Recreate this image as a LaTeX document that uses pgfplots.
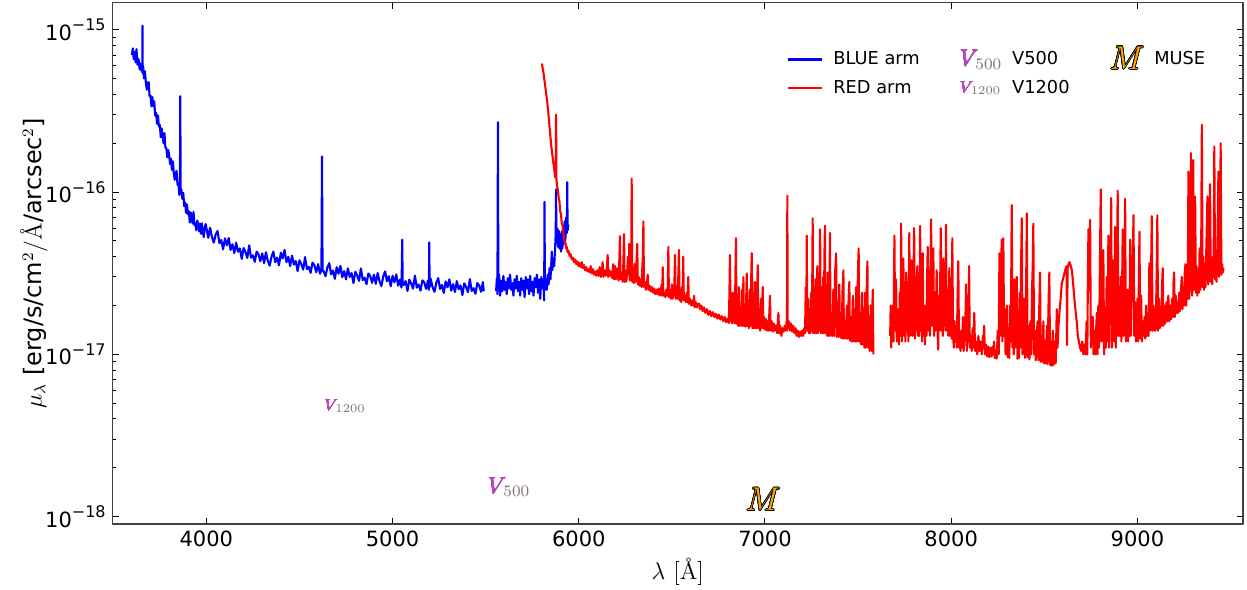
\documentclass[border=0pt]{standalone}
\usepackage{fix-cm}
\usepackage{pgfplots}
\pgfplotsset{compat=1.18}
\usepackage{pgfplotstable}
\usepackage{fontspec}
\usepackage{contour}
\newfontfamily\dv{DejaVu Sans}
\contourlength{0.35pt}
\definecolor{vmag}{RGB}{200,60,200}
\definecolor{vgray}{RGB}{128,112,128}
\definecolor{morange}{RGB}{255,165,0}
\colorlet{vedge}{vgray!50!vmag}
\newcommand{\ytl}[1]{{\dv\fontsize{10.5}{12}\selectfont 10\raisebox{0.45em}{\fontsize{8}{9}\selectfont −#1}}}
\newcommand{\Vfive}{{\fontsize{11.5}{12}\selectfont\contourlength{0.08pt}$\mbox{\color{vmag}\contour{vedge}{$V$}}_{\!\color{vgray}500}$}}
\newcommand{\Vtwelve}{{\fontsize{8}{9}\selectfont\contourlength{0.06pt}$\mbox{\color{vmag}\contour{vedge}{$V$}}_{\!\color{vgray}1200}$}}
\newcommand{\Muse}{{\fontsize{16.5}{17}\selectfont\color{morange}\contour{black}{$M$}}}

% fluxes in units of 1e-17 erg/s/cm2/A/arcsec2
\pgfplotstableread[row sep=\\]{
l f\\
3600 70\\ 3605 77\\ 3610 66\\ 3615 73\\ 3620 63\\ 3625 76\\ 3630 61\\ 3636 66\\ 3642 57\\ 3648 62\\
3654 55\\ 3656 56\\ 3657 106\\ 3658 54\\ 3660 60.4\\ 3665 50.2\\ 3670 55.6\\ 3675 47.5\\ 3680 42.8\\
3685 46.8\\ 3690 47.7\\ 3695 39.0\\ 3700 39.4\\ 3705 33.8\\ 3710 38.5\\ 3715 33.8\\ 3720 36.3\\
3725 29.6\\ 3730 30.9\\ 3735 26.4\\ 3740 29.7\\ 3745 25.4\\ 3750 26.0\\ 3755 21.8\\ 3760 24.7\\
3765 22.5\\ 3770 20.0\\ 3775 23.1\\ 3780 18.8\\ 3785 18.7\\ 3790 16.4\\ 3795 18.2\\ 3800 17.0\\
3805 14.9\\ 3810 16.1\\ 3815 13.7\\ 3820 15.5\\ 3825 13.2\\ 3830 11.9\\ 3835 13.1\\ 3840 13.5\\
3845 11.1\\ 3850 11.3\\ 3855 9.6\\ 3858 10.4\\ 3860 39\\ 3862 10.0\\ 3866 10.4\\ 3871 9.1\\ 3876 9.9\\
3881 8.2\\ 3886 8.65\\ 3891 7.45\\ 3896 8.4\\ 3901 7.3\\ 3906 7.6\\ 3911 6.5\\ 3916 7.5\\ 3921 7.0\\
3926 6.4\\ 3931 7.55\\ 3936 6.27\\ 3941 6.43\\ 3946 5.82\\ 3951 6.68\\ 3956 6.39\\ 3961 5.73\\
3966 6.39\\ 3971 5.53\\ 3976 6.43\\ 3981 5.67\\ 3986 5.28\\ 3991 5.98\\ 3996 6.35\\
4000 6.04\\ 4010 5.22\\ 4020 6.03\\ 4030 5.28\\ 4040 4.88\\ 4050 5.49\\ 4060 5.76\\ 4070 4.85\\
4080 5.07\\ 4090 4.44\\ 4100 5.19\\ 4110 4.70\\ 4120 5.21\\ 4130 4.40\\ 4140 4.77\\ 4150 4.21\\
4160 4.88\\ 4170 4.29\\ 4180 4.50\\ 4190 3.88\\ 4200 4.52\\ 4210 4.27\\ 4220 3.93\\ 4230 4.70\\
4240 3.95\\ 4250 4.08\\ 4260 3.72\\ 4270 4.30\\ 4280 4.14\\ 4290 3.75\\ 4300 4.19\\ 4310 3.65\\
4320 4.26\\ 4330 3.77\\ 4340 3.52\\ 4350 4.00\\ 4360 4.30\\ 4370 3.70\\ 4380 3.95\\ 4390 3.54\\
4400 4.23\\ 4410 3.90\\ 4420 4.40\\ 4430 3.70\\ 4440 3.99\\ 4450 3.50\\ 4460 4.06\\ 4470 3.58\\
4480 3.76\\ 4490 3.26\\ 4500 3.80\\ 4510 3.60\\ 4520 3.33\\ 4530 3.98\\ 4540 3.35\\ 4550 3.47\\
4560 3.18\\ 4570 3.68\\ 4580 3.54\\ 4590 3.21\\ 4600 3.60\\ 4610 3.14\\ 4618 3.3\\ 4621 16.6\\
4624 3.3\\ 4630 3.25\\ 4640 3.03\\ 4650 3.44\\ 4660 3.65\\ 4670 3.11\\ 4680 3.29\\ 4690 2.92\\
4700 3.45\\ 4710 3.14\\ 4720 3.51\\ 4730 2.99\\ 4740 3.26\\ 4750 2.90\\ 4760 3.39\\ 4770 3.00\\
4780 3.17\\ 4790 2.75\\ 4800 3.23\\ 4810 3.06\\ 4820 2.84\\ 4830 3.39\\ 4840 2.87\\ 4850 2.97\\
4860 2.71\\ 4870 3.15\\ 4880 3.04\\ 4890 2.76\\ 4900 3.10\\ 4910 2.72\\ 4920 3.17\\ 4930 2.82\\
4940 2.64\\ 4950 3.02\\ 4960 3.25\\ 4970 2.82\\ 4980 3.03\\ 4990 2.63\\ 5000 3.05\\ 5010 2.78\\
5020 3.11\\ 5030 2.65\\ 5040 2.89\\ 5048 2.58\\ 5052 5.1\\ 5054 2.8\\ 5060 2.67\\ 5070 2.83\\
5080 2.46\\ 5090 2.89\\ 5100 2.74\\ 5110 2.54\\ 5120 3.06\\ 5130 2.58\\ 5140 2.69\\ 5150 2.47\\
5160 2.86\\ 5170 2.78\\ 5180 2.53\\ 5190 2.85\\ 5195 2.5\\ 5197 4.9\\ 5199 2.6\\ 5205 2.92\\
5215 2.59\\ 5225 2.43\\ 5235 2.77\\ 5245 2.95\\ 5255 2.53\\ 5265 2.68\\ 5275 2.39\\ 5285 2.82\\
5295 2.59\\ 5305 2.90\\ 5315 2.47\\ 5325 2.71\\ 5335 2.42\\ 5345 2.83\\ 5355 2.52\\ 5365 2.66\\
5375 2.32\\ 5385 2.74\\ 5395 2.60\\ 5405 2.42\\ 5415 2.91\\ 5425 2.46\\ 5435 2.56\\ 5445 2.36\\
5455 2.75\\ 5465 2.66\\ 5475 2.43\\ 5485 2.79\\ 5490 2.45\\
}\blueA
\pgfplotstableread[row sep=\\]{
l f\\
5556 2.45\\ 5560 2.95\\ 5563 2.35\\ 5566 27\\ 5568 2.6\\ 5572 3.1\\ 5577 2.3\\ 5583 2.85\\ 5589 2.45\\
5595 3.05\\ 5601 2.5\\ 5607 2.8\\ 5613 2.35\\ 5619 2.95\\ 5625 2.55\\ 5631 3.1\\ 5637 2.5\\ 5643 2.75\\
5649 2.3\\ 5655 2.9\\ 5661 2.55\\ 5667 3.05\\ 5673 2.45\\ 5679 2.8\\ 5685 2.3\\ 5691 2.95\\ 5697 2.5\\
5703 2.85\\ 5709 2.25\\ 5715 3.0\\ 5721 2.55\\ 5727 2.9\\ 5733 2.35\\ 5739 3.05\\ 5745 2.45\\ 5751 2.8\\
5757 2.3\\ 5763 2.95\\ 5769 2.6\\ 5775 3.1\\ 5781 2.4\\ 5787 2.9\\ 5793 2.2\\ 5799 3.0\\ 5805 2.55\\
5810 2.9\\ 5814 2.15\\ 5816 8.7\\ 5818 2.5\\ 5823 2.9\\ 5828 2.5\\ 5833 3.1\\ 5838 2.7\\ 5843 3.4\\
5848 2.9\\ 5853 3.8\\ 5855 4.3\\ 5858 3.3\\ 5863 3.9\\ 5868 3.5\\ 5873 4.6\\ 5876 5.5\\ 5878 10.4\\
5880 5.0\\ 5884 6.0\\ 5888 4.6\\ 5892 5.8\\ 5896 4.5\\ 5900 5.5\\ 5904 4.3\\ 5908 5.7\\ 5912 4.5\\
5916 6.2\\ 5920 4.8\\ 5924 6.6\\ 5928 5.0\\ 5932 7.0\\ 5936 5.6\\ 5938 11.5\\ 5940 5.8\\ 5944 6.3\\
}\blueB
\pgfplotstableread[row sep=\\]{
l f\\
5802 62\\ 5806 58\\ 5810 55\\ 5814 50.5\\ 5818 46.5\\ 5822 43\\ 5826 39.5\\ 5830 36.5\\ 5834 33\\
5838 29.5\\ 5842 26\\ 5846 23\\ 5850 20.5\\ 5854 18.5\\ 5858 17\\ 5862 15.5\\ 5866 14.5\\ 5870 13.2\\
5874 12.3\\ 5876 13.5\\ 5878 30\\ 5880 12\\ 5884 10.8\\ 5888 10.2\\ 5892 9.2\\ 5896 8.8\\ 5900 7.6\\
5904 7.4\\ 5908 6.5\\ 5912 6.3\\ 5916 5.6\\ 5920 5.4\\ 5924 5.0\\ 5928 4.9\\ 5932 4.5\\ 5936 4.6\\
5940 4.25\\ 5945 4.35\\ 5950 4.05\\ 5956 4.15\\ 5962 3.85\\ 5968 3.95\\ 5974 3.7\\ 5980 3.85\\ 5986 3.6\\
5992 3.75\\ 5998 3.5\\ 6004 3.65\\ 6010 3.45\\ 6016 3.7\\ 6022 3.4\\ 6028 3.55\\ 6034 3.3\\ 6040 3.45\\
6046 3.25\\ 6052 3.35\\ 6058 3.2\\ 6064 3.5\\ 6070 3.15\\ 6076 3.35\\ 6082 3.1\\ 6088 3.25\\ 6094 3.05\\
6100 3.3\\ 6106 3.05\\ 6112 3.45\\ 6118 3.0\\ 6124 3.25\\ 6128 3.7\\ 6132 3.0\\ 6138 3.3\\ 6144 3.05\\
6150 3.35\\ 6155 4.1\\ 6158 3.0\\ 6164 3.3\\ 6170 3.05\\ 6176 3.25\\ 6180 2.95\\ 6185 3.6\\ 6190 2.9\\
6195 3.5\\ 6200 2.9\\ 6205 3.3\\ 6210 3.4\\ 6214 2.85\\ 6218 3.9\\ 6221 5.35\\ 6224 2.9\\ 6230 3.2\\
6236 2.8\\ 6240 3.9\\ 6243 5.5\\ 6246 2.8\\ 6250 3.3\\ 6255 2.8\\ 6260 3.2\\ 6264 4.0\\ 6268 3.1\\
6271 4.8\\ 6274 2.85\\ 6278 3.5\\ 6281 3.0\\ 6284 12.1\\ 6287 2.8\\ 6291 3.4\\ 6295 2.75\\ 6300 3.6\\
6304 2.8\\ 6308 3.3\\ 6311 4.0\\ 6314 4.8\\ 6317 2.7\\ 6322 3.0\\ 6326 2.65\\ 6332 2.9\\ 6337 2.6\\
6341 3.4\\ 6344 4.0\\ 6347 6.6\\ 6350 2.6\\ 6355 2.8\\ 6360 2.5\\ 6365 2.7\\ 6370 3.1\\ 6374 2.5\\
6380 2.65\\ 6386 2.45\\ 6392 2.6\\ 6398 2.4\\ 6404 2.55\\ 6410 2.35\\ 6416 2.5\\ 6422 2.35\\ 6428 2.55\\
6434 2.3\\ 6440 2.45\\ 6445 2.7\\ 6448 2.3\\ 6451 3.45\\ 6454 2.3\\ 6460 2.4\\ 6465 2.25\\ 6470 2.5\\
6474 2.3\\ 6478 2.6\\ 6481 4.6\\ 6484 2.25\\ 6490 2.5\\ 6495 2.2\\ 6500 2.7\\ 6504 2.2\\ 6508 2.6\\
6512 2.3\\ 6517 4.1\\ 6520 2.2\\ 6525 2.5\\ 6530 2.2\\ 6534 2.9\\ 6538 4.4\\ 6541 2.15\\ 6546 2.5\\
6550 2.1\\ 6554 2.6\\ 6557 2.2\\ 6561 4.0\\ 6564 2.15\\ 6570 2.3\\ 6575 2.1\\ 6580 2.4\\ 6584 2.1\\
6588 3.0\\ 6591 2.05\\ 6597 2.2\\ 6603 2.0\\ 6610 2.15\\ 6616 2.0\\ 6619 2.3\\ 6622 1.95\\ 6628 2.1\\
6634 1.95\\ 6640 2.05\\ 6647 2.05\\ 6650 1.9\\ 6658 2.0\\ 6665 1.85\\ 6672 1.95\\ 6680 1.8\\ 6688 1.9\\
6696 1.75\\ 6704 1.85\\ 6712 1.72\\ 6720 1.82\\ 6728 1.7\\ 6736 1.78\\ 6744 1.66\\ 6752 1.76\\ 6760 1.64\\
6768 1.72\\ 6776 1.6\\ 6784 1.7\\ 6792 1.58\\ 6800 1.66\\ 6806 1.56\\ 6809 2.4\\ 6812 4.1\\ 6815 1.6\\
6820 1.8\\ 6824 1.55\\ 6827 2.4\\ 6830 1.6\\ 6835 2.0\\ 6838 1.55\\ 6841 3.0\\ 6844 5.2\\ 6847 1.55\\
6852 2.2\\ 6856 1.5\\ 6860 2.6\\ 6863 1.5\\ 6868 1.9\\ 6872 1.5\\ 6877 2.5\\ 6880 1.5\\ 6884 3.0\\
6887 1.5\\ 6892 2.0\\ 6896 1.48\\ 6899 2.2\\ 6902 3.15\\ 6905 1.5\\ 6910 2.0\\ 6914 1.45\\ 6918 2.5\\
6922 1.5\\ 6926 3.0\\ 6929 4.2\\ 6932 1.45\\ 6936 2.1\\ 6940 1.45\\ 6945 2.8\\ 6948 1.45\\ 6952 2.2\\
6955 1.45\\ 6958 2.6\\ 6961 3.55\\ 6964 1.45\\ 6970 1.9\\ 6974 1.4\\ 6978 2.2\\ 6982 1.45\\ 6985 2.0\\
6988 2.6\\ 6991 1.45\\ 6996 1.7\\ 7000 1.42\\ 7006 1.65\\ 7010 1.4\\ 7016 1.6\\ 7020 1.4\\ 7024 1.9\\
7027 2.3\\ 7030 1.4\\ 7036 1.6\\ 7042 1.38\\ 7048 1.55\\ 7054 1.4\\ 7060 1.5\\ 7066 1.35\\ 7072 1.8\\
7076 1.35\\ 7082 1.5\\ 7088 1.3\\ 7094 1.45\\ 7100 1.38\\ 7106 1.5\\ 7112 1.4\\ 7116 1.6\\ 7118 1.4\\
7120 9.5\\ 7122 1.45\\ 7128 1.6\\ 7134 1.4\\ 7140 1.55\\ 7146 1.38\\ 7152 1.5\\ 7158 1.35\\ 7164 1.45\\
7170 1.3\\ 7176 1.4\\ 7182 1.28\\ 7188 1.38\\ 7194 1.3\\ 7200 1.4\\ 7205 1.3\\ 7210 1.45\\ 7215 1.35\\
7219 2.6\\ 7222 1.4\\ 7224 5.4\\ 7227 1.4\\ 7232 2.2\\ 7236 1.35\\ 7240 1.9\\ 7244 1.35\\ 7248 2.4\\
7252 1.4\\ 7256 6.9\\ 7259 1.35\\ 7264 2.2\\ 7268 1.35\\ 7272 2.9\\ 7276 1.35\\ 7281 3.5\\ 7284 1.35\\
7288 2.4\\ 7292 1.4\\ 7296 5.9\\ 7299 1.35\\ 7304 2.6\\ 7308 1.35\\ 7313 3.0\\ 7316 1.35\\ 7319 4.0\\
7322 6.2\\ 7325 1.35\\ 7330 2.0\\ 7334 1.3\\ 7338 3.2\\ 7342 1.3\\ 7346 2.6\\ 7349 5.6\\ 7352 1.3\\
7358 1.8\\ 7362 1.3\\ 7367 2.5\\ 7371 1.3\\ 7376 3.1\\ 7382 4.2\\ 7385 1.28\\ 7390 2.0\\ 7394 1.28\\
7399 2.7\\ 7403 1.28\\ 7408 1.8\\ 7412 1.25\\ 7416 2.4\\ 7421 3.3\\ 7424 1.25\\ 7430 1.6\\ 7434 1.25\\
7440 2.0\\ 7444 1.25\\ 7449 2.2\\ 7453 2.8\\ 7456 1.22\\ 7462 1.7\\ 7466 1.2\\ 7472 2.3\\ 7476 1.2\\
7481 1.9\\ 7485 1.2\\ 7490 2.6\\ 7494 1.2\\ 7499 3.2\\ 7503 4.5\\ 7506 1.2\\ 7512 1.8\\ 7516 1.15\\
7521 2.4\\ 7525 1.15\\ 7530 1.9\\ 7534 1.1\\ 7537 2.4\\ 7540 1.1\\ 7545 2.2\\ 7550 3.75\\ 7553 1.1\\
7558 1.7\\ 7562 1.05\\ 7568 2.0\\ 7572 1.05\\ 7576 1.9\\ 7579 2.5\\ 7582 1.0\\
}\redA
\pgfplotstableread[row sep=\\]{
l f\\
7672 1.3\\ 7675 2.0\\ 7678 1.1\\ 7682 1.8\\ 7686 2.0\\ 7690 1.2\\ 7695 5.4\\ 7699 1.4\\ 7704 2.9\\
7708 1.2\\ 7712 1.9\\ 7716 1.7\\ 7720 1.15\\ 7724 2.4\\ 7728 1.3\\ 7731 6.4\\ 7735 1.2\\ 7739 2.6\\
7743 3.9\\ 7747 1.3\\ 7751 2.2\\ 7754 1.2\\ 7758 3.2\\ 7762 1.4\\ 7766 2.8\\ 7770 1.2\\ 7775 5.6\\
7779 1.3\\ 7783 2.5\\ 7788 3.8\\ 7792 1.3\\ 7796 2.2\\ 7801 6.0\\ 7805 1.25\\ 7809 3.0\\ 7813 1.4\\
7818 3.5\\ 7822 1.3\\ 7826 2.6\\ 7829 1.3\\ 7833 6.2\\ 7837 1.4\\ 7841 2.4\\ 7844 1.2\\ 7847 4.2\\
7851 1.3\\ 7855 2.0\\ 7859 1.15\\ 7863 1.8\\ 7867 1.3\\ 7870 2.8\\ 7874 4.6\\ 7878 1.4\\ 7882 2.4\\
7886 1.3\\ 7889 3.5\\ 7892 6.8\\ 7896 1.5\\ 7900 2.8\\ 7904 4.5\\ 7908 1.3\\ 7912 2.2\\ 7916 1.4\\
7922 3.3\\ 7926 1.5\\ 7930 1.07\\ 7934 2.3\\ 7938 1.4\\ 7944 6.0\\ 7948 1.4\\ 7952 2.5\\ 7955 1.3\\
7958 3.9\\ 7962 1.5\\ 7966 2.2\\ 7969 1.4\\ 7972 6.3\\ 7976 1.4\\ 7980 2.0\\ 7984 1.3\\ 7990 3.4\\
7994 1.3\\ 7998 2.3\\ 8002 1.25\\ 8006 5.2\\ 8010 1.3\\ 8014 1.1\\ 8018 1.6\\ 8022 1.2\\ 8026 1.4\\
8030 1.1\\ 8034 2.2\\ 8038 3.75\\ 8042 1.1\\ 8046 1.3\\ 8050 1.05\\ 8054 1.4\\ 8058 1.1\\ 8063 1.7\\
8067 1.05\\ 8072 1.35\\ 8076 1.6\\ 8080 2.7\\ 8084 1.05\\ 8088 1.5\\ 8092 1.2\\ 8096 3.5\\ 8100 1.1\\
8105 1.3\\ 8110 1.05\\ 8115 1.45\\ 8120 1.1\\ 8124 1.8\\ 8128 1.05\\ 8134 1.2\\ 8140 1.0\\ 8146 1.3\\
8152 1.05\\ 8158 1.2\\ 8164 1.0\\ 8170 1.3\\ 8174 1.1\\ 8177 1.5\\ 8181 1.0\\ 8187 1.15\\ 8193 0.97\\
8199 1.12\\ 8205 0.96\\ 8211 1.1\\ 8217 0.97\\ 8223 1.12\\ 8227 1.0\\ 8230 1.2\\ 8234 0.95\\ 8240 1.05\\
8244 0.94\\ 8250 1.4\\ 8255 1.0\\ 8259 4.2\\ 8263 1.3\\ 8267 2.5\\ 8271 5.1\\ 8275 1.2\\ 8280 5.2\\
8284 1.3\\ 8288 1.9\\ 8292 1.0\\ 8296 1.6\\ 8299 2.0\\ 8303 0.96\\ 8308 1.4\\ 8312 0.95\\ 8316 2.0\\
8320 1.2\\ 8325 8.3\\ 8329 1.1\\ 8333 2.0\\ 8336 1.0\\ 8339 2.9\\ 8344 1.1\\ 8348 1.8\\ 8352 3.0\\
8356 0.94\\ 8360 1.5\\ 8364 0.95\\ 8368 2.4\\ 8372 1.1\\ 8375 3.5\\ 8379 6.9\\ 8383 1.0\\ 8388 1.6\\
8392 2.2\\ 8396 0.95\\ 8400 1.8\\ 8403 3.2\\ 8406 7.4\\ 8410 0.96\\ 8415 1.5\\ 8420 0.93\\ 8425 1.6\\
8430 1.0\\ 8434 2.5\\ 8438 3.6\\ 8441 6.4\\ 8445 1.0\\ 8450 1.4\\ 8454 0.92\\ 8459 1.3\\ 8464 1.6\\
8468 0.92\\ 8473 2.0\\ 8477 3.2\\ 8481 0.9\\ 8486 1.3\\ 8490 0.9\\ 8495 1.6\\ 8499 0.88\\ 8504 1.2\\
8508 0.88\\ 8514 1.5\\ 8518 0.87\\ 8522 1.9\\ 8527 3.2\\ 8531 0.86\\ 8536 1.2\\ 8540 0.85\\ 8546 1.4\\
8550 0.86\\ 8556 1.2\\ 8561 0.88\\ 8567 1.9\\ 8571 1.1\\ 8576 1.5\\ 8581 1.8\\ 8586 2.1\\ 8590 2.4\\
8594 2.75\\ 8600 2.9\\ 8606 3.1\\ 8612 3.3\\ 8617 3.45\\ 8620 3.5\\ 8622 1.14\\ 8625 3.4\\ 8630 3.6\\
8635 3.7\\ 8641 3.55\\ 8648 3.3\\ 8654 2.8\\ 8660 2.3\\ 8665 2.0\\ 8670 1.75\\ 8674 1.6\\ 8680 1.3\\
8686 1.2\\ 8692 1.1\\ 8698 1.05\\ 8704 1.2\\ 8710 1.0\\ 8716 1.15\\ 8722 1.0\\ 8727 1.6\\ 8731 1.0\\
8734 3.0\\ 8737 5.9\\ 8740 2.5\\ 8743 3.5\\ 8746 6.75\\ 8750 1.1\\ 8755 1.7\\ 8760 1.7\\ 8764 1.0\\
8770 1.4\\ 8774 1.0\\ 8778 1.4\\ 8782 1.8\\ 8786 1.0\\ 8790 2.0\\ 8794 1.1\\ 8799 4.0\\ 8803 10.4\\
8807 1.2\\ 8812 2.0\\ 8817 4.4\\ 8821 1.0\\ 8826 1.8\\ 8830 1.1\\ 8835 3.0\\ 8840 1.2\\ 8844 5.4\\
8848 1.1\\ 8852 2.5\\ 8856 4.0\\ 8859 9.2\\ 8863 1.1\\ 8868 2.0\\ 8872 3.8\\ 8876 1.2\\ 8880 6.1\\
8884 1.1\\ 8888 2.5\\ 8891 4.2\\ 8894 10.2\\ 8898 1.3\\ 8902 2.0\\ 8906 1.3\\ 8910 3.0\\ 8914 1.2\\
8918 2.7\\ 8921 5.9\\ 8925 1.3\\ 8930 3.2\\ 8934 9.1\\ 8938 1.2\\ 8942 2.0\\ 8946 2.5\\ 8950 1.2\\
8954 2.4\\ 8957 1.3\\ 8961 5.1\\ 8965 1.3\\ 8970 2.6\\ 8975 4.0\\ 8979 7.2\\ 8983 1.3\\ 8988 2.1\\
8992 1.2\\ 8996 1.6\\ 9000 2.2\\ 9004 1.2\\ 9008 3.0\\ 9011 5.7\\ 9015 1.25\\ 9020 2.3\\ 9024 1.2\\
9028 1.6\\ 9032 1.3\\ 9038 1.7\\ 9042 1.25\\ 9047 2.0\\ 9051 1.3\\ 9056 1.8\\ 9060 1.3\\ 9064 3.65\\
9068 1.4\\ 9072 2.4\\ 9077 7.1\\ 9081 1.4\\ 9086 2.0\\ 9090 1.4\\ 9094 1.8\\ 9098 1.4\\ 9103 3.0\\
9107 7.2\\ 9111 1.4\\ 9116 2.2\\ 9120 1.45\\ 9125 1.8\\ 9129 1.5\\ 9132 2.6\\ 9136 3.4\\ 9140 1.5\\
9145 2.0\\ 9150 1.55\\ 9156 2.1\\ 9161 1.6\\ 9166 2.3\\ 9171 1.6\\ 9176 2.0\\ 9181 1.65\\ 9186 2.2\\
9191 1.7\\ 9194 2.8\\ 9197 3.2\\ 9201 1.7\\ 9206 2.3\\ 9211 1.8\\ 9216 2.1\\ 9220 1.8\\ 9225 2.4\\
9229 1.85\\ 9234 2.5\\ 9238 3.0\\ 9242 1.9\\ 9247 2.4\\ 9251 2.0\\ 9254 3.2\\ 9258 3.6\\ 9262 2.0\\
9266 2.6\\ 9270 2.2\\ 9274 13.4\\ 9278 2.2\\ 9282 4.5\\ 9285 2.5\\ 9287 17.4\\ 9290 3.0\\ 9294 2.3\\
9297 5.0\\ 9300 15.8\\ 9303 2.5\\ 9307 4.0\\ 9310 9.4\\ 9314 2.4\\ 9318 3.5\\ 9322 2.3\\ 9326 3.2\\
9330 2.4\\ 9334 4.5\\ 9338 2.5\\ 9342 3.5\\ 9346 26\\ 9350 2.6\\ 9354 4.0\\ 9358 2.5\\ 9362 3.2\\
9366 2.6\\ 9370 4.5\\ 9376 9.4\\ 9380 2.7\\ 9384 4.2\\ 9390 11.2\\ 9394 2.8\\ 9398 3.6\\ 9402 2.7\\
9406 4.0\\ 9409 3.0\\ 9413 19.1\\ 9417 2.9\\ 9421 4.0\\ 9425 2.8\\ 9430 5.0\\ 9435 13.4\\ 9439 3.0\\
9443 4.5\\ 9447 20\\ 9451 3.1\\ 9455 3.6\\ 9459 3.2\\ 9462 3.4\\
}\redB

\begin{document}
\begin{tikzpicture}
\begin{axis}[
  at={(0pt,0pt)}, anchor=south west,
  scale only axis, width=565.15pt, height=260.65pt,
  xmin=3497, xmax=9567, ymode=log, ymin=9.0e-19, ymax=1.47e-15,
  xtick={4000,5000,6000,7000,8000,9000}, minor x tick num=0,
  ytick={1e-18,1e-17,1e-16,1e-15},
  yticklabels={\ytl{18},\ytl{17},\ytl{16},\ytl{15}},
  tick align=inside, tick pos=both,
  major tick length=3pt, minor tick length=1.8pt,
  every tick/.style={black, line width=0.5pt},
  axis line style={black!75, line width=0.7pt},
  /pgf/number format/assume math mode=true,
  xticklabel style={font=\dv\fontsize{10.5}{12}\selectfont, /pgf/number format/1000 sep={}},
  xlabel={\fontsize{12}{14}\selectfont$\lambda$ [\AA]},
  xlabel style={at={(axis description cs:0.5,0)}, anchor=center, yshift=-24pt},
  ylabel={\fontsize{12}{14}\selectfont$\mu_\lambda$ {\dv[erg/s/cm}$^2$/\AA{\dv/arcsec}$^2${\dv]}},
  ylabel style={at={(axis description cs:-0.0696,0.5)}, anchor=center},
  legend columns=3,
  legend style={draw=none, fill=none, at={(0.591,0.924)}, anchor=north west,
    font=\dv\fontsize{8.9}{11}\selectfont, row sep=2pt,
    /tikz/every odd column/.append style={column sep=3pt},
    /tikz/every even column/.append style={column sep=18pt},
    /tikz/column 4/.append style={column sep=18pt},
    /tikz/column 5/.append style={column sep=9pt}},
  legend cell align=left,
  line join=round,
]
\addlegendimage{blue, line width=1.05pt}
\addlegendentry{BLUE arm}
\addlegendimage{only marks, mark=text, text mark={\Vfive}, text mark as node=true, text mark style={inner sep=0pt}}
\addlegendentry{V500}
\addlegendimage{only marks, mark=text, text mark={\Muse}, text mark as node=true, text mark style={inner sep=0pt}}
\addlegendentry{MUSE}
\addlegendimage{red, line width=1.05pt}
\addlegendentry{RED arm}
\addlegendimage{only marks, mark=text, text mark={\Vtwelve}, text mark as node=true, text mark style={inner sep=0pt}}
\addlegendentry{V1200}

\addplot[blue, line width=1.05pt, forget plot] table[x=l, y expr=\thisrow{f}*1e-17] {\blueA};
\addplot[blue, line width=1.05pt, forget plot] table[x=l, y expr=\thisrow{f}*1e-17] {\blueB};
\addplot[red, line width=1.05pt, forget plot] table[x=l, y expr=\thisrow{f}*1e-17] {\redA};
\addplot[red, line width=1.05pt, forget plot] table[x=l, y expr=\thisrow{f}*1e-17] {\redB};

\addplot[only marks, mark=text, text mark={\Vtwelve}, text mark as node=true, text mark style={inner sep=0pt}, forget plot] coordinates {(4745,4.8e-18)};
\addplot[only marks, mark=text, text mark={\Vfive}, text mark as node=true, text mark style={inner sep=0pt}, forget plot] coordinates {(5625,1.52e-18)};
\addplot[only marks, mark=text, text mark={\Muse}, text mark as node=true, text mark style={inner sep=0pt}, forget plot] coordinates {(6990,1.27e-18)};
\end{axis}
\pgfresetboundingbox
\path[use as bounding box] (-56.35pt,-32.5pt) rectangle (567.15pt,262pt);
\end{tikzpicture}
\end{document}
